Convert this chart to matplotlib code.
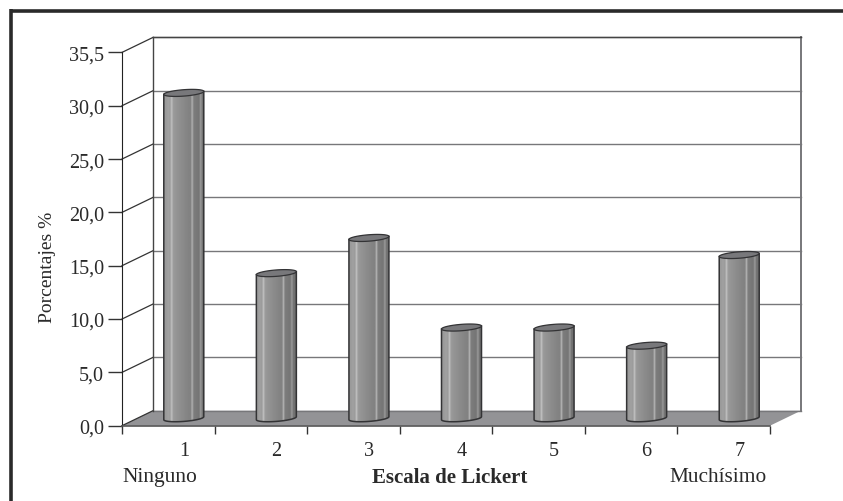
import numpy as np
import matplotlib
matplotlib.use("Agg")
import matplotlib.pyplot as plt
from matplotlib.patches import Polygon

plt.rcParams['font.family'] = ['Liberation Serif', 'DejaVu Serif']

categories = ["1", "2", "3", "4", "5", "6", "7"]
values = [30.5, 13.6, 16.9, 8.5, 8.5, 6.8, 15.3]
ytick_pos = [0, 5, 10, 15, 20, 25, 30, 35]
ytick_labels = ["0,0", "5,0", "10,0", "15,0", "20,0", "25,0", "30,0", "35,5"]

W, H = 843, 502
fig = plt.figure(figsize=(W / 100, H / 100), dpi=100)
ax = fig.add_axes([122 / W, 75.3 / H, 648 / W, 373.3 / H])
ax.set_xlim(0.5, 7.5)
ax.set_ylim(0, 35)
ax.patch.set_visible(False)

# depth of the fake 3d box, in data units
px_x = 7 / 648
px_y = 35 / 373.3
dx = 31 * px_x
dy = 15 * px_y

# floor
ax.add_patch(Polygon([(0.5, 0), (7.5, 0), (7.5 + dx, dy), (0.5 + dx, dy)],
                     closed=True, fc="#939396", ec="none", clip_on=False, zorder=1))

# back wall and side wall lines
for y in ytick_pos:
    ax.plot([0.5 + dx, 7.5 + dx], [y + dy, y + dy], color="#77777a", lw=1.0,
            clip_on=False, zorder=1)
    ax.plot([0.5, 0.5 + dx], [y, y + dy], color="#333333", lw=0.9, clip_on=False, zorder=1)
ax.plot([0.5 + dx, 0.5 + dx], [dy, 35 + dy], color="#444444", lw=1.0, clip_on=False, zorder=1)
ax.plot([7.5 + dx, 7.5 + dx], [dy, 35 + dy], color="#77777a", lw=1.4, clip_on=False, zorder=1)
ax.plot([0.5 + dx, 7.5 + dx], [35 + dy, 35 + dy], color="#444444", lw=1.0, clip_on=False, zorder=1)

# shading across a cylinder, with the thin light streaks
shade = np.array([0.60, 0.61, 0.63, 0.61, 0.74, 0.61, 0.59, 0.58, 0.57, 0.56, 0.55, 0.54,
                  0.53, 0.52, 0.51, 0.51, 0.68, 0.49, 0.48, 0.47, 0.46, 0.60, 0.46, 0.44])
shade = shade.reshape(1, -1)

half_w = 20.0 * px_x
half_h = 3.2 * px_y
tilt = 1.5 * px_y
t = np.linspace(0, 2 * np.pi, 80)


def rim(cx, cy):
    xs = cx + half_w * np.cos(t)
    ys = cy + half_h * np.sin(t) + tilt * np.cos(t)
    return xs, ys


centers = np.arange(1, 8) + dx / 2

for cx, v in zip(centers, values):
    base = dy / 2
    top = v + dy / 2
    lower = t[40:]
    bx = cx + half_w * np.cos(lower)
    by = base + half_h * np.sin(lower) + tilt * np.cos(lower)
    pts = [(cx - half_w, top - tilt)] + list(zip(bx, by)) + [(cx + half_w, top + tilt)]
    ax.add_patch(Polygon(pts, closed=True, fc="none", ec="#333335", lw=1.1, clip_on=False, zorder=4))
    im = ax.imshow(shade, cmap="gray", vmin=0, vmax=1, aspect="auto", zorder=3,
                   extent=(cx - half_w, cx + half_w, base - half_h - tilt, top + tilt),
                   interpolation="bilinear")
    im.set_clip_path(Polygon(pts, closed=True, transform=ax.transData))
    xs, ys = rim(cx, top)
    ax.add_patch(Polygon(np.column_stack([xs, ys]), closed=True, fc="#78787b", ec="#333335",
                         lw=0.9, clip_on=False, zorder=5))

ax.set_xlim(0.5, 7.5)
ax.set_ylim(0, 35)

for s in ["top", "right"]:
    ax.spines[s].set_visible(False)
ax.spines["left"].set_color("#222222")
ax.spines["bottom"].set_color("#555555")
ax.spines["bottom"].set_linewidth(1.2)
ax.spines["left"].set_zorder(6)
ax.spines["bottom"].set_zorder(6)

ax.set_yticks(ytick_pos)
ax.set_yticklabels(ytick_labels)
ax.tick_params(axis="y", length=10, width=1, color="#333333", pad=3, labelsize=14.5,
               labelcolor="#2a2a2a")
ax.set_xticks(centers)
ax.set_xticklabels(categories)
ax.tick_params(axis="x", which="major", length=0, pad=11, labelsize=14.5, labelcolor="#2a2a2a")
ax.set_xticks(np.arange(0.5, 8), minor=True)
ax.tick_params(axis="x", which="minor", length=6, width=1, color="#333333")

fig.text(47 / W, 1 - 267 / H, "Porcentajes %", rotation=90, ha="center", va="center",
         fontsize=14, color="#2a2a2a")
fig.text(160 / W, 1 - 478 / H, "Ninguno", ha="center", va="center", fontsize=15.5, color="#2a2a2a")
fig.text(450 / W, 1 - 478 / H, "Escala de Lickert", ha="center", va="center", fontsize=15,
         fontweight="bold", color="#2a2a2a")
fig.text(718 / W, 1 - 478 / H, "Muchísimo", ha="center", va="center", fontsize=15.4, color="#2a2a2a")

# frame of the page, only top and left
fig.add_artist(plt.Line2D([11 / W, 11 / W], [0, 1 - 10 / H], color="#2a2a2a", lw=2.6,
                          solid_capstyle="butt"))
fig.add_artist(plt.Line2D([9.5 / W, 1], [1 - 11.5 / H, 1 - 11.5 / H], color="#2a2a2a", lw=2.6,
                          solid_capstyle="butt"))

fig.savefig("out.png", dpi=100)
